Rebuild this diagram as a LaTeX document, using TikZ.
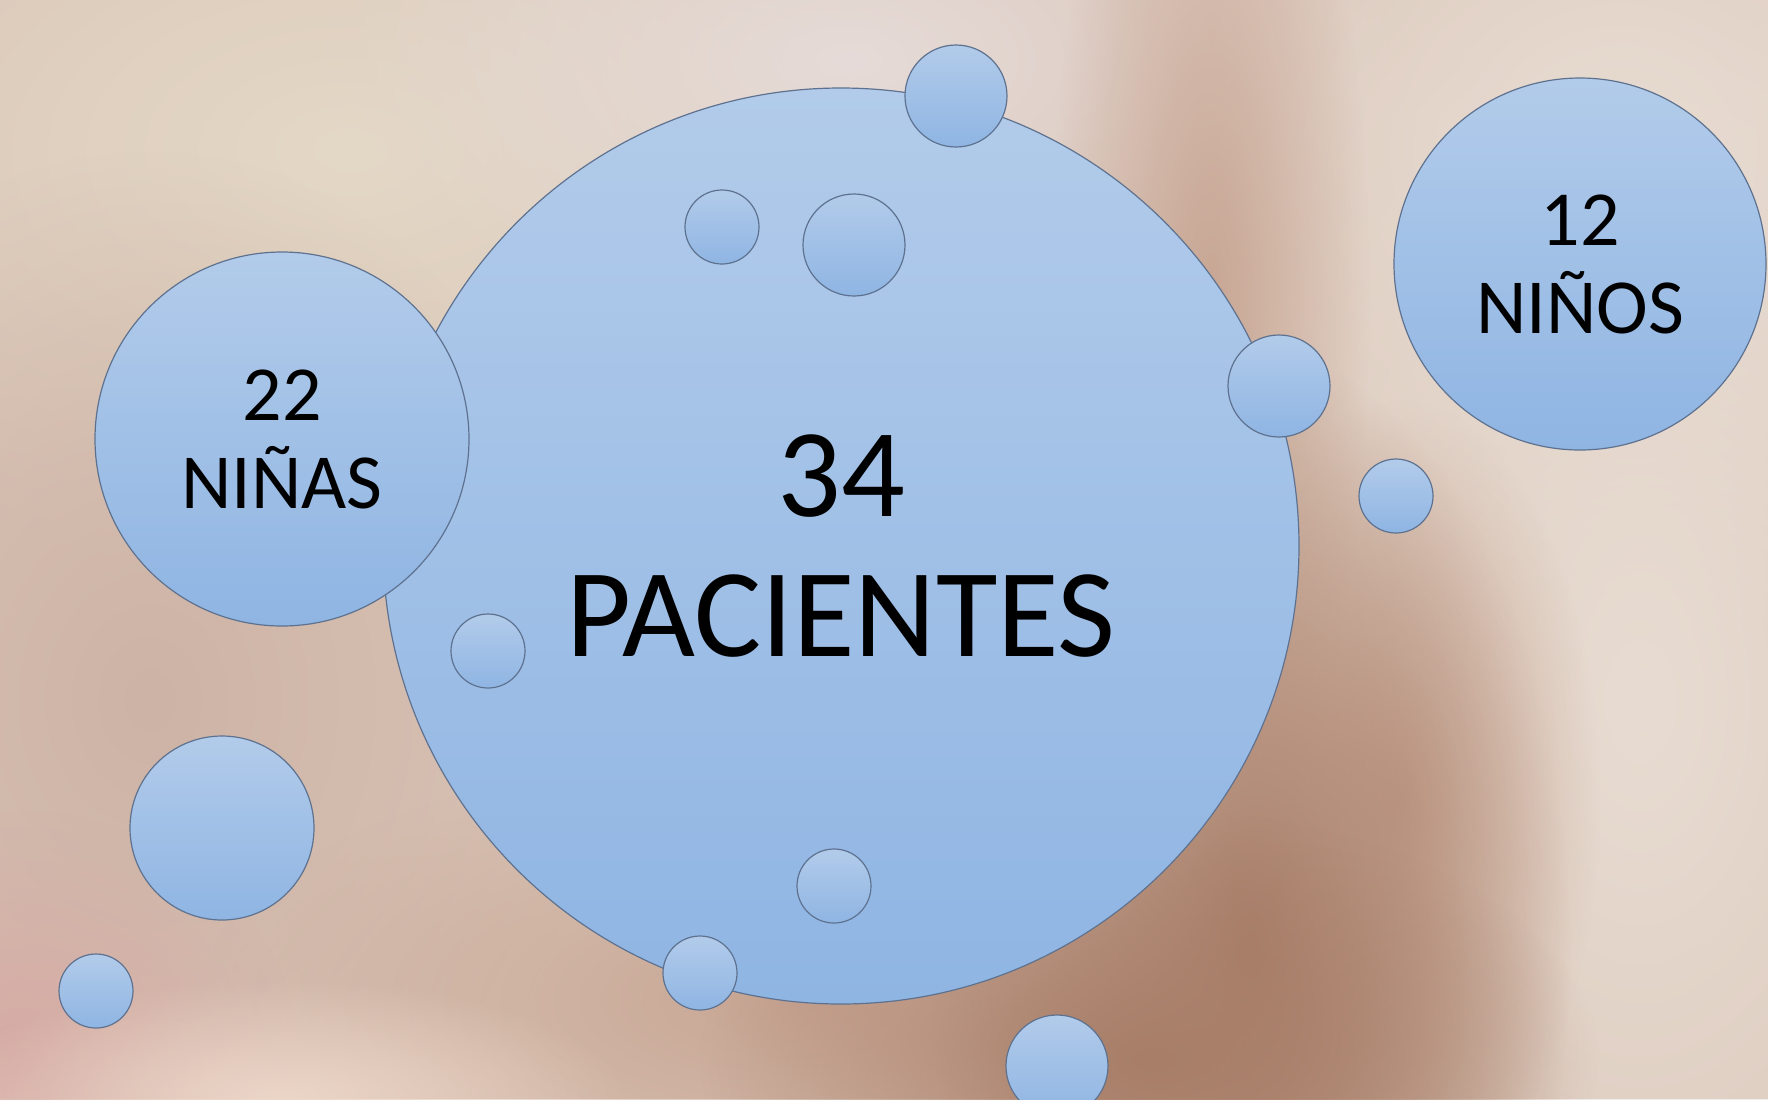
\documentclass[tikz,border=0pt]{standalone}
\usepackage{fontspec}
\setmainfont{Carlito}
\usetikzlibrary{fadings}

\definecolor{bubbletop}{HTML}{B2CBEA}
\definecolor{bubblebottom}{HTML}{8FB5E3}
\definecolor{bubbleline}{HTML}{5E7290}
\definecolor{bgbase}{HTML}{D9C4B6}
\definecolor{bgbeige}{HTML}{E4D8C6}
\definecolor{bgpale}{HTML}{E6DBD8}
\definecolor{bglight}{HTML}{E8DCD2}
\definecolor{bgbrown}{HTML}{A87E68}
\definecolor{bgtan}{HTML}{C8A694}
\definecolor{bgrose}{HTML}{CDB3A6}
\definecolor{bgpink}{HTML}{D6AAA4}
\definecolor{bgcream}{HTML}{ECD6C8}

\tikzfading[name=softblob, inner color=transparent!0, outer color=transparent!100]
\tikzstyle{blob}=[path fading=softblob]
\tikzstyle{bubble}=[circle, inner sep=0, draw=bubbleline, line width=0.6pt, top color=bubbletop, bottom color=bubblebottom, align=center]
\tikzstyle{bigtext}=[font=\fontsize{63}{70}\selectfont]
\tikzstyle{smalltext}=[font=\fontsize{39}{44}\selectfont]

\begin{document}
\begin{tikzpicture}[x=0.5pt, y=-0.5pt]

\useasboundingbox (0, 0) rectangle (1768, 1099);
\clip (0, 0) rectangle (1768, 1099);

\fill [bgbase] (0, 0) rectangle (1768, 1099);
\fill [bgbeige, blob] (350, 150) ellipse (750 and 450);
\fill [bgpale, blob] (850, 60) ellipse (550 and 300);
\fill [bglight, blob] (1620, 150) ellipse (550 and 500);
\fill [bglight, blob] (1640, 700) ellipse (520 and 900);
\fill [bgrose, blob] (150, 700) ellipse (450 and 550);
\fill [bgtan, blob] (1210, 300) ellipse (160 and 600);
\fill [bgtan, blob] (800, 1000) ellipse (600 and 250);
\fill [bgtan, blob] (1400, 800) ellipse (200 and 400);
\fill [bgbrown, blob] (1250, 950) ellipse (320 and 600);
\fill [bgbrown, blob] (1150, 1060) ellipse (450 and 250);
\fill [bgpink, blob] (20, 1060) ellipse (280 and 250);
\fill [bgcream, blob] (280, 1099) ellipse (350 and 120);

\node [bubble, bigtext, minimum size=458pt] (pacientes) at (841, 546) {34\\PACIENTES};
\node [bubble, smalltext, minimum size=187pt] (ninas) at (282, 439) {22\\NIÑAS};
\node [bubble, smalltext, minimum size=186pt] (ninos) at (1580, 264) {12\\NIÑOS};

\node [bubble, minimum size=51pt] (b1) at (956, 96) {};
\node [bubble, minimum size=37pt] (b2) at (722, 227) {};
\node [bubble, minimum size=51pt] (b3) at (854, 245) {};
\node [bubble, minimum size=51pt] (b4) at (1279, 386) {};
\node [bubble, minimum size=37pt] (b5) at (1396, 496) {};
\node [bubble, minimum size=37pt] (b6) at (488, 651) {};
\node [bubble, minimum size=92pt] (b7) at (222, 828) {};
\node [bubble, minimum size=37pt] (b8) at (96, 991) {};
\node [bubble, minimum size=37pt] (b9) at (834, 886) {};
\node [bubble, minimum size=37pt] (b10) at (700, 973) {};
\node [bubble, minimum size=51pt] (b11) at (1057, 1066) {};

\end{tikzpicture}
\end{document}
